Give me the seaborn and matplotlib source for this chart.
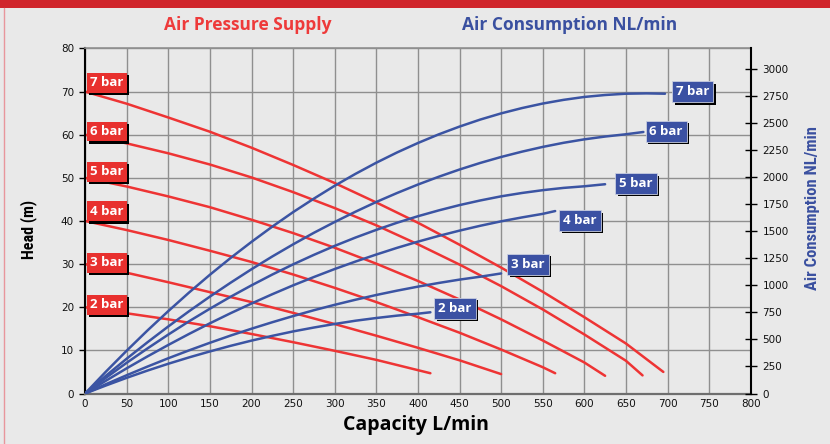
import numpy as np
import pandas as pd
import matplotlib
matplotlib.use("Agg")
import matplotlib.pyplot as plt
import seaborn as sns
from matplotlib import patheffects as pe
from matplotlib.patches import Rectangle
from matplotlib.lines import Line2D
from matplotlib import font_manager as fm

# ---------------- data ----------------
pressures = ["2 bar", "3 bar", "4 bar", "5 bar", "6 bar", "7 bar"]

# Head (m) vs capacity (L/min)
head_q_2 = [0, 50, 100, 150, 200, 250, 300, 350, 415]
head_h_2 = [20, 18.6, 17.2, 15.6, 13.8, 11.9, 9.9, 7.8, 4.7]
head_q_3 = [0, 50, 100, 150, 200, 250, 300, 350, 400, 450, 500]
head_h_3 = [30, 28.0, 25.8, 23.5, 21.2, 18.7, 16.1, 13.4, 10.6, 7.7, 4.5]
head_q_4 = [0, 50, 100, 150, 200, 250, 300, 350, 400, 450, 500, 550, 565]
head_h_4 = [40, 37.9, 35.6, 33.1, 30.5, 27.6, 24.5, 21.2, 17.7, 14.1, 10.2, 6.1, 4.7]
head_q_5 = [0, 50, 100, 150, 200, 250, 300, 350, 400, 450, 500, 550, 600, 625]
head_h_5 = [50, 48.0, 45.7, 43.2, 40.3, 37.2, 33.8, 30.1, 26.1, 21.8, 17.2, 12.3, 7.2, 4.1]
head_q_6 = [0, 50, 100, 150, 200, 250, 300, 350, 400, 450, 500, 550, 600, 650, 670]
head_h_6 = [60, 58.0, 55.7, 53.1, 50.1, 46.7, 43.0, 39.0, 34.6, 29.9, 24.9, 19.5, 13.7, 7.6, 4.2]
head_q_7 = [0, 50, 100, 150, 200, 250, 300, 350, 400, 450, 500, 550, 600, 650, 695]
head_h_7 = [70, 67.2, 64.0, 60.7, 57.0, 53.0, 48.8, 44.3, 39.6, 34.5, 29.2, 23.6, 17.7, 11.6, 5.0]

# Air consumption (NL/min) vs capacity (L/min)
air_q_2 = [0, 25, 50, 75, 100, 125, 150, 175, 200, 225, 250, 275, 300, 325, 350, 375, 400, 415]
air_c_2 = [0, 74, 145, 212, 275, 334, 389, 441, 489, 533, 574, 610, 643, 673, 698, 720, 738, 751]
air_q_3 = [0, 25, 50, 75, 100, 125, 150, 175, 200, 225, 250, 275, 300, 325, 350, 375, 400,
           425, 450, 475, 500]
air_c_3 = [0, 86, 169, 249, 326, 399, 469, 536, 599, 659, 716, 770, 820, 867, 911, 951, 988,
           1022, 1053, 1080, 1110]
air_q_4 = [0, 25, 50, 75, 100, 125, 150, 175, 200, 225, 250, 275, 300, 325, 350, 375, 400,
           425, 450, 475, 500, 525, 550, 565]
air_c_4 = [0, 118, 233, 343, 449, 551, 649, 743, 832, 918, 1000, 1077, 1151, 1220, 1285, 1347,
           1404, 1457, 1506, 1551, 1592, 1628, 1661, 1687]
air_q_5 = [0, 25, 50, 75, 100, 125, 150, 175, 200, 225, 250, 275, 300, 325, 350, 375, 400,
           425, 450, 475, 500, 525, 550, 575, 600, 625]
air_c_5 = [0, 145, 284, 417, 545, 668, 784, 895, 1000, 1100, 1194, 1282, 1365, 1442, 1513,
           1579, 1639, 1693, 1742, 1785, 1823, 1854, 1880, 1901, 1916, 1935]
air_q_6 = [0, 25, 50, 75, 100, 125, 150, 175, 200, 225, 250, 275, 300, 325, 350, 375, 400,
           425, 450, 475, 500, 525, 550, 575, 600, 625, 650, 671]
air_c_6 = [0, 164, 322, 474, 620, 761, 896, 1025, 1149, 1267, 1379, 1486, 1586, 1681, 1771,
           1854, 1932, 2004, 2071, 2132, 2187, 2236, 2280, 2318, 2350, 2376, 2397, 2418]
air_q_7 = [0, 25, 50, 75, 100, 125, 150, 175, 200, 225, 250, 275, 300, 325, 350, 375, 400,
           425, 450, 475, 500, 525, 550, 575, 600, 625, 650, 675, 697]
air_c_7 = [0, 202, 396, 583, 762, 934, 1098, 1254, 1402, 1543, 1677, 1802, 1921, 2031, 2134,
           2229, 2316, 2396, 2468, 2533, 2590, 2639, 2681, 2715, 2742, 2760, 2772, 2775, 2772]

x_ticks = list(range(0, 801, 50))
head_ticks = list(range(0, 81, 10))
air_ticks = list(range(0, 3001, 250))

head_q = [head_q_2, head_q_3, head_q_4, head_q_5, head_q_6, head_q_7]
head_h = [head_h_2, head_h_3, head_h_4, head_h_5, head_h_6, head_h_7]
air_q = [air_q_2, air_q_3, air_q_4, air_q_5, air_q_6, air_q_7]
air_c = [air_c_2, air_c_3, air_c_4, air_c_5, air_c_6, air_c_7]

head_df = pd.concat([pd.DataFrame({"capacity": q, "head": h, "pressure": p})
                     for p, q, h in zip(pressures, head_q, head_h)], ignore_index=True)
air_df = pd.concat([pd.DataFrame({"capacity": q, "air": c, "pressure": p})
                    for p, q, c in zip(pressures, air_q, air_c)], ignore_index=True)

# ---------------- style ----------------
BG = "#e9e9e9"
RED_LINE = "#ee3434"
RED_BOX = "#e8302e"
BLUE_LINE = "#3b54a3"
BLUE_BOX = "#3b51a3"
GRID = "#8f8f8f"
TICK_FONT = ["DejaVu Sans"]

installed = {f.name for f in fm.fontManager.ttflist}
narrow_candidates = ["Roboto Condensed", "Liberation Sans Narrow", "Open Sans Condensed"]
narrow = [n for n in narrow_candidates if n in installed]
NARROW = narrow[:1] + ["Open Sans", "DejaVu Sans"]
narrow_found = bool(narrow)

sns.set_theme(style="white")
plt.rcParams["font.family"] = ["Open Sans", "DejaVu Sans"]

fig = plt.figure(figsize=(8.3, 4.44), dpi=100, facecolor=BG)
ax = fig.add_axes([85.1 / 830, 1 - 393.5 / 444, (750.7 - 85.1) / 830, (393.5 - 48.5) / 444])
ax.set_facecolor(BG)

sns.lineplot(data=head_df, x="capacity", y="head", hue="pressure",
             palette=[RED_LINE] * len(pressures), sort=False, estimator=None,
             linewidth=1.8, legend=False, ax=ax)

ax.set_xlim(0, 800)
ax.set_ylim(0, 80)
ax.set_xticks(x_ticks)
ax.set_yticks(head_ticks)
ax.grid(True, color=GRID, linewidth=1.0)
ax.set_axisbelow(True)
ax.set_xlabel("")
ax.set_ylabel("")
ax.tick_params(axis="y", which="both", left=True, length=4, width=1, color="black",
               pad=4, labelsize=7.5, labelcolor="#111111", direction="out")
ax.tick_params(axis="x", length=0, pad=4, labelsize=7.5, labelcolor="#111111")
for lbl in ax.get_xticklabels() + ax.get_yticklabels():
    lbl.set_family(TICK_FONT)
ax.spines["left"].set_color("black")
ax.spines["left"].set_linewidth(1.5)
ax.spines["bottom"].set_color("#6e6e6e")
ax.spines["bottom"].set_linewidth(1.6)
ax.spines["top"].set_color(GRID)
ax.spines["top"].set_linewidth(1.2)
ax.spines["right"].set_visible(False)

ax2 = ax.twinx()
sns.lineplot(data=air_df, x="capacity", y="air", hue="pressure",
             palette=[BLUE_LINE] * len(pressures), sort=False, estimator=None,
             linewidth=1.8, legend=False, ax=ax2)
ax2.set_ylim(0, 3190)
ax2.set_yticks(air_ticks)
ax2.set_ylabel("")
ax2.tick_params(axis="y", right=True, direction="inout", length=8, width=1,
                color="black", pad=4.5, labelsize=7.5, labelcolor="#111111")
for lbl in ax2.get_yticklabels():
    lbl.set_family(TICK_FONT)
for s in ["left", "top", "bottom"]:
    ax2.spines[s].set_visible(False)
ax2.spines["right"].set_color("black")
ax2.spines["right"].set_linewidth(1.5)

shadow = [pe.SimplePatchShadow(offset=(1.8, -1.8), shadow_rgbFace="black", alpha=1.0), pe.Normal()]

# red labels at curve starts (offsets in points)
red_offsets = [(3.5, 1.9), (3.5, 1.1), (3.5, 7.0), (3.5, 4.3), (3.5, 2.3), (3.5, 6.4)]
for p, q, h, off in zip(pressures, head_q, head_h, red_offsets):
    t = ax.annotate(p, xy=(q[0], h[0]), xytext=off, textcoords="offset points",
                    ha="left", va="center", color="white", fontsize=9.5, fontweight="bold",
                    zorder=10, annotation_clip=False,
                    bbox=dict(boxstyle="square,pad=0.26", fc=RED_BOX, ec="none"))
    t.get_bbox_patch().set_path_effects(shadow)

# blue labels at curve ends
blue_offsets = [(5.8, 2.9), (7.3, 6.7), (5.8, -6.8), (10.2, 0.5), (4.4, 0.4), (8.0, 1.5)]
for p, q, c, off in zip(pressures, air_q, air_c, blue_offsets):
    t = ax2.annotate(p, xy=(q[-1], c[-1]), xytext=off, textcoords="offset points",
                     ha="left", va="center", color="white", fontsize=9.5, fontweight="bold",
                     zorder=10, annotation_clip=False,
                     bbox=dict(boxstyle="square,pad=0.3", fc=BLUE_BOX, ec="#c9cee0", lw=0.6))
    t.get_bbox_patch().set_path_effects(shadow)

# titles and axis labels
fig.text(248 / 830, 1 - 25 / 444, "Air Pressure Supply", ha="center", va="center",
         color="#ee3a3a", fontsize=12.5, fontweight="bold")
fig.text(570 / 830, 1 - 25 / 444, "Air Consumption NL/min", ha="center", va="center",
         color="#3a50a0", fontsize=12.5, fontweight="bold")
fig.text(416 / 830, 1 - 425 / 444, "Capacity L/min", ha="center", va="center",
         color="black", fontsize=14, fontweight="bold")
side_size = 11.5 if narrow_found else 9.5
fig.text(29 / 830, 1 - 229 / 444, "Head (m)", ha="center", va="center", rotation=90,
         color="black", fontsize=side_size, fontweight="bold", family=NARROW)
fig.text(812 / 830, 1 - 208 / 444, "Air Consumption NL/min", ha="center", va="center",
         rotation=90, color="#3a50a0", fontsize=(12 if narrow_found else 9.5),
         fontweight="bold", family=NARROW)

# decorative frame: red top strip and thin pink left line
fig.patches.append(Rectangle((0, 1 - 8 / 444), 1, 8 / 444, transform=fig.transFigure,
                             facecolor="#d0252b", edgecolor="none", zorder=0))
fig.lines.append(Line2D([4 / 830, 4 / 830], [0, 1 - 8 / 444], transform=fig.transFigure,
                        color="#e8969c", linewidth=1.0))

fig.savefig("out.png", dpi=100, facecolor=BG)
